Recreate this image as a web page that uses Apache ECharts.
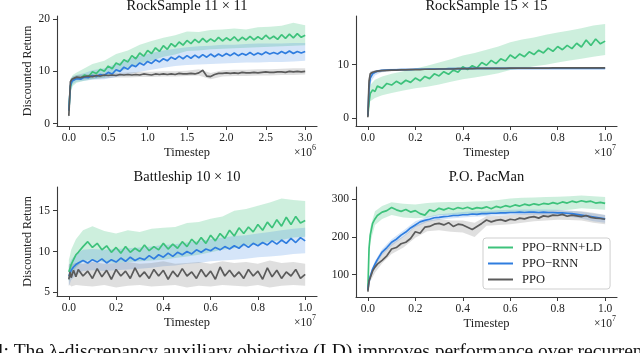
<!DOCTYPE html>
<html><head><meta charset="utf-8">
<script src="https://cdn.jsdelivr.net/npm/echarts@6/dist/echarts.min.js"></script>
<style>html,body{margin:0;padding:0;background:#fff;}#c{width:640px;height:353px;}</style>
</head><body><div id="c"></div>
<script>
// ---------- names ----------
const NAME_LD = 'PPO−RNN+LD';
const NAME_RNN = 'PPO−RNN';
const NAME_PPO = 'PPO';
const panelTitles = ['RockSample 11 × 11', 'RockSample 15 × 15', 'Battleship 10 × 10', 'P.O. PacMan'];

// ---------- x grids (timesteps, in units of 1e6 for RockSample 11, 1e7 otherwise) ----------
const xRS11 = [0, 0.02, 0.04, 0.07, 0.1, 0.15, 0.2, 0.25, 0.3, 0.35, 0.4, 0.45, 0.5, 0.55, 0.6, 0.65, 0.7, 0.75, 0.8, 0.85, 0.9, 0.95, 1.0, 1.05, 1.1, 1.15, 1.2, 1.25, 1.3, 1.35, 1.4, 1.45, 1.5, 1.55, 1.6, 1.65, 1.7, 1.75, 1.8, 1.85, 1.9, 1.95, 2.0, 2.05, 2.1, 2.15, 2.2, 2.25, 2.3, 2.35, 2.4, 2.45, 2.5, 2.55, 2.6, 2.65, 2.7, 2.75, 2.8, 2.85, 2.9, 2.95, 3.0];
const xBandRS11 = [0, 0.02, 0.05, 0.1, 0.2, 0.3, 0.45, 0.6, 0.75, 0.9, 1.05, 1.2, 1.35, 1.5, 1.65, 1.8, 1.95, 2.1, 2.25, 2.4, 2.55, 2.7, 2.85, 3.0];
const x1e7 = [0, 0.005, 0.01, 0.02, 0.03, 0.04, 0.06, 0.08, 0.1, 0.12, 0.14, 0.16, 0.18, 0.2, 0.22, 0.24, 0.26, 0.28, 0.3, 0.32, 0.34, 0.36, 0.38, 0.4, 0.42, 0.44, 0.46, 0.48, 0.5, 0.52, 0.54, 0.56, 0.58, 0.6, 0.62, 0.64, 0.66, 0.68, 0.7, 0.72, 0.74, 0.76, 0.78, 0.8, 0.82, 0.84, 0.86, 0.88, 0.9, 0.92, 0.94, 0.96, 0.98, 1.0];
const xBand1e7 = [0, 0.005, 0.01, 0.03, 0.06, 0.1, 0.15, 0.2, 0.25, 0.3, 0.35, 0.4, 0.45, 0.5, 0.55, 0.6, 0.65, 0.7, 0.75, 0.8, 0.85, 0.9, 0.95, 1.0];

// ---------- tick labels ----------
const xTicksRS11 = [0, 0.5, 1.0, 1.5, 2.0, 2.5, 3.0];
const xTicks1e7 = [0, 0.2, 0.4, 0.6, 0.8, 1.0];
const yTicksRS11 = [0, 10, 20];
const yTicksRS15 = [0, 10];
const yTicksBS = [5, 10, 15];
const yTicksPM = [100, 200, 300];
const xExponents = ['6', '7', '7', '7'];

// ---------- RockSample 11x11 ----------
const rs11LD = [2.5,7.0,8.2,8.5,8.8,8.7,9.3,9.0,9.9,9.6, 10.4,10.0,11.0,10.5,11.6,11.2,12.2,11.8,13.0,12.4, 13.5,12.9,14.0,13.4,14.5,13.8,14.9,14.2,15.3,14.7, 15.6,15.0,15.9,15.3,16.1,15.5,16.3,15.6,16.2,15.7, 16.5,15.8,16.4,15.9,16.6,15.8,16.5,16.0,16.7,16.0, 16.6,16.1,16.9,16.2,16.7,16.1,17.0,16.3,17.1,16.4, 17.2,16.5,16.9];
const rs11RNN = [2.5,7.3,8.1,8.4,8.6,8.5,8.9,8.8,9.2,9.0, 9.4,9.2,9.8,9.5,10.3,10.0,10.8,10.4,11.2,10.9, 11.6,11.2,11.9,11.5,12.2,11.8,12.4,12.0,12.7,12.3, 12.9,12.4,13.0,12.5,13.1,12.6,13.2,12.7,13.3,12.8, 13.3,12.9,13.4,13.0,13.5,13.0,13.4,13.1,13.6,13.1, 13.5,13.2,13.7,13.3,13.6,13.3,13.8,13.4,13.9,13.4, 13.8,13.5,13.8];
const rs11PPO = [1.5,8.0,8.5,8.7,8.9,8.8,9.0,9.1,9.0,9.2, 9.1,9.3,9.2,9.3,9.2,9.4,9.3,9.4,9.3,9.4, 9.3,9.5,9.4,9.3,9.5,9.4,9.5,9.4,9.5,9.4, 9.6,9.5,9.5,9.6,9.5,9.7,10.2,9.1,9.0,9.4, 9.6,9.6,9.7,9.6,9.7,9.6,9.8,9.7,9.7,9.8, 9.7,9.8,9.9,9.8,9.8,9.9,9.9,9.8,10.0,9.9, 10.0,9.9,10.0];
const rs11LDHi = [4.5,8.5,9.3,9.8,10.6,11.4,12.0,13.3,14.0,15.1,15.8,16.4,16.9,17.6,17.5,17.9,18.0,18.2,18.0,18.4,18.5,18.7,19.3,18.8];
const rs11LDLo = [1.0,5.8,7.2,7.8,8.2,8.5,8.8,9.8,10.5,11.5,12.0,12.8,13.2,13.9,14.0,14.2,14.3,14.4,14.5,14.6,14.7,14.8,14.9,15.0];
const rs11RNNHi = [4.5,8.3,9.0,9.3,9.7,10.2,10.6,11.4,12.3,13.0,13.5,14.0,14.3,14.6,14.8,14.9,15.1,15.1,15.2,15.3,15.3,15.3,15.4,15.4];
const rs11RNNLo = [1.0,6.0,7.6,8.0,8.2,8.4,8.5,8.9,9.4,9.9,10.3,10.7,11.0,11.2,11.3,11.4,11.5,11.6,11.7,11.7,11.8,11.8,11.9,12.0];
const rs11PPOHi = [2.5,8.6,9.0,9.3,9.4,9.5,9.6,9.7,9.8,9.9,9.9,10.0,10.0,10.1,10.4,9.7,10.2,10.3,10.3,10.4,10.4,10.5,10.6,10.6];
const rs11PPOLo = [0.5,7.2,8.1,8.4,8.5,8.6,8.7,8.8,8.8,8.9,8.9,9.0,9.0,9.1,9.2,8.5,9.0,9.1,9.1,9.2,9.2,9.3,9.3,9.4];

// ---------- RockSample 15x15 ----------
const rs15LD = [0.5,3.0,4.6,5.3,5.0,6.0,5.6,6.5,6.2,6.9, 6.4,7.1,6.7,7.5,7.0,7.8,7.4,8.3,7.9,8.7, 8.2,9.0,8.6,9.6,9.1,9.8,9.4,10.4,9.9,10.8, 10.2,11.1,10.7,11.8,11.2,12.0,11.5,12.4,11.9,12.7, 12.2,13.1,12.5,13.4,12.8,13.6,13.0,14.0,13.3,14.6, 13.6,14.8,13.9,14.4];
const rs15RNN = [0.5,5.5,7.5,8.3,8.6,8.8,8.95,9.0,9.05,9.05, 9.1,9.1,9.1,9.15,9.15,9.15,9.2,9.2,9.2,9.2, 9.25,9.25,9.25,9.25,9.3,9.3,9.3,9.3,9.3,9.3, 9.3,9.3,9.3,9.3,9.3,9.3,9.3,9.3,9.3,9.3, 9.3,9.3,9.3,9.3,9.3,9.3,9.3,9.3,9.3,9.3, 9.3,9.3,9.3,9.3];
const rs15PPO = [0.2,7.0,8.3,8.6,8.7,8.8,8.9,8.95,9.0,9.0, 9.05,9.05,9.1,9.1,9.1,9.15,9.15,9.15,9.2,9.2, 9.2,9.2,9.25,9.25,9.25,9.25,9.3,9.3,9.3,9.3, 9.3,9.3,9.3,9.35,9.35,9.35,9.35,9.35,9.35,9.35, 9.35,9.35,9.4,9.4,9.4,9.4,9.4,9.4,9.4,9.4, 9.4,9.4,9.4,9.4];
const rs15LDHi = [1.5,4.5,6.2,7.2,7.8,8.3,8.8,9.3,9.8,10.4,11.0,11.7,12.2,12.8,13.4,14.2,14.7,15.1,15.6,16.0,16.4,16.8,17.3,17.6];
const rs15LDLo = [0.0,1.8,3.2,3.8,4.3,4.7,5.2,5.6,5.9,6.3,6.8,7.3,7.6,8.0,8.4,9.0,9.3,9.7,10.0,10.4,10.8,11.1,11.5,11.8];
const rs15RNNHi = [1.5,7.0,8.3,8.9,9.15,9.25,9.3,9.3,9.35,9.4,9.4,9.45,9.45,9.45,9.45,9.45,9.45,9.45,9.45,9.45,9.45,9.45,9.45,9.45];
const rs15RNNLo = [0.0,4.0,6.6,8.0,8.7,8.85,8.95,9.0,9.0,9.05,9.05,9.1,9.1,9.1,9.15,9.15,9.15,9.15,9.15,9.15,9.15,9.15,9.15,9.15];
const rs15PPOHi = [0.8,8.0,8.8,8.95,9.1,9.2,9.25,9.3,9.35,9.4,9.45,9.45,9.5,9.5,9.5,9.5,9.55,9.55,9.55,9.55,9.55,9.55,9.55,9.55];
const rs15PPOLo = [0.0,6.0,7.8,8.4,8.6,8.8,8.9,9.0,9.0,9.05,9.1,9.1,9.15,9.15,9.15,9.2,9.2,9.2,9.2,9.25,9.25,9.25,9.25,9.25];

// ---------- Battleship 10x10 ----------
const bsLD = [7.5,7.9,8.4,9.0,9.6,9.9,10.6,11.2,10.5,11.0, 10.2,10.7,9.9,10.5,9.8,10.6,9.9,10.4,10.0,10.8, 10.1,10.6,10.2,11.0,10.3,10.9,10.4,11.2,10.6,11.5, 10.9,11.7,11.0,12.0,11.3,12.2,11.6,12.6,11.9,12.9, 12.2,13.0,12.4,13.3,12.6,13.6,12.9,13.9,13.1,14.2, 13.3,14.3,13.5,13.8];
const bsRNN = [7.0,7.3,7.7,8.1,8.4,8.6,8.9,8.6,9.0,8.7, 9.1,8.6,9.0,8.7,9.2,8.8,9.3,8.9,9.2,9.0, 9.5,9.1,9.6,9.3,9.8,9.4,9.9,9.6,10.0,9.7, 10.2,9.9,10.3,10.1,10.5,10.2,10.6,10.3,10.7,10.4, 10.9,10.5,11.0,10.7,11.1,10.8,11.3,10.9,11.4,11.0, 11.6,11.1,11.7,11.3];
const bsPPO = [6.6,7.5,6.8,7.7,6.9,7.8,7.0,7.6,6.7,7.9, 6.9,7.7,6.6,7.8,7.0,7.6,6.7,8.0,6.9,7.5, 6.7,7.8,7.0,7.7,6.6,7.6,6.9,7.9,7.0,7.5, 6.7,7.8,6.9,7.6,6.6,8.1,7.0,7.7,6.9,7.5, 6.7,7.8,7.0,7.6,6.6,8.0,6.9,7.7,6.7,7.5, 7.0,7.8,6.7,7.2];
const bsLDHi = [9.0,9.5,10.2,11.5,12.6,13.1,12.5,12.2,12.6,12.4,12.8,12.9,13.0,13.5,13.6,14.0,14.3,15.0,15.2,15.6,16.0,16.5,16.3,16.2];
const bsLDLo = [6.3,6.7,7.1,8.0,8.8,9.0,8.7,8.6,8.7,8.8,8.9,9.0,9.2,9.4,9.6,9.9,10.2,10.4,10.7,10.9,11.2,11.4,11.7,11.8];
const bsRNNHi = [8.3,8.6,9.0,9.7,10.2,10.3,10.2,10.3,10.4,10.5,10.6,10.8,10.9,11.1,11.3,11.5,11.7,11.9,12.0,12.2,12.4,12.6,12.8,12.9];
const bsRNNLo = [5.8,6.1,6.5,7.1,7.6,7.7,7.6,7.7,7.8,7.9,8.0,8.2,8.3,8.5,8.6,8.8,8.9,9.0,9.1,9.3,9.4,9.5,9.7,9.8];
const bsPPOHi = [8.4,8.5,8.4,8.6,8.5,8.7,8.5,8.6,8.7,8.5,8.6,8.8,8.5,8.6,8.7,8.5,8.8,8.6,8.7,8.5,8.9,8.6,8.7,8.5];
const bsPPOLo = [5.8,5.9,5.7,5.9,5.8,5.7,5.9,5.6,5.8,5.9,5.7,5.8,5.9,5.6,5.8,5.7,5.9,5.8,5.7,5.9,5.6,5.8,5.9,5.8];

// ---------- P.O. PacMan ----------
const pmLD = [60,170,205,236,248,257,266,270,278,272, 268,273,266,270,262,258,272,268,276,272, 277,273,278,275,279,274,278,276,280,275, 281,278,283,280,285,282,287,284,288,285, 289,287,291,288,293,290,295,292,296,293, 295,290,292,289];
const pmRNN = [60,82,95,115,128,140,160,172,186,194, 205,213,224,232,240,244,247,251,252,254, 255,257,257,259,259,261,260,262,262,263, 263,264,264,265,265,266,265,266,266,265, 266,265,265,264,264,263,262,260,258,256, 254,252,250,248];
const pmPPO = [55,84,92,110,120,128,138,150,168,172, 182,186,196,214,210,226,228,234,236,232, 238,228,234,232,226,220,228,236,245,240, 244,246,242,247,245,250,248,252,254,250, 256,254,258,257,260,255,258,256,254,257, 252,250,249,247];
const pmLDHi = [75,190,225,268,282,292,288,286,290,292,293,293,294,295,298,302,304,305,306,307,308,310,308,306];
const pmLDLo = [50,150,185,232,248,258,252,250,252,258,259,259,260,260,262,265,266,267,268,270,272,276,274,272];
const pmRNNHi = [66,90,103,136,168,194,217,242,254,260,263,266,268,269,271,272,273,273,273,272,270,267,262,258];
const pmRNNLo = [55,75,87,120,152,176,200,226,240,246,249,252,254,255,257,258,259,259,259,258,254,249,242,238];
const pmPPOHi = [62,92,100,128,156,182,202,230,244,248,244,244,238,255,256,258,261,265,268,270,269,268,264,258];
const pmPPOLo = [50,72,82,105,130,155,172,198,215,218,214,212,200,230,232,234,238,242,244,246,245,244,238,234];

// ---------- styling ----------
const C_LD = '#3dc27b', C_RNN = '#2f7ddf', C_PPO = '#5b5b5b';
const B_LD = 'rgba(61,194,123,0.26)', B_RNN = 'rgba(47,125,223,0.2)', B_PPO = 'rgba(110,110,110,0.22)';
const FONT = 'Liberation Serif';
const AX = '#3a3a3a';

function check(xs, arr, label) { if (xs.length !== arr.length) throw new Error('length mismatch ' + label + ' ' + xs.length + ' vs ' + arr.length); }

function lineSeries(name, xs, ys, gi, color) {
  check(xs, ys, name + gi);
  return { type: 'line', name: name, xAxisIndex: gi, yAxisIndex: gi,
    data: xs.map((x, i) => [x, ys[i]]), showSymbol: false, symbol: 'none',
    lineStyle: { color: color, width: 1.7 }, itemStyle: { color: color },
    animation: false, clip: true, silent: true };
}
function bandSeries(xs, lo, hi, gi, fill) {
  check(xs, lo, 'lo' + gi); check(xs, hi, 'hi' + gi);
  const data = xs.map((x, i) => [x, lo[i], hi[i]]);
  return { type: 'custom', name: 'band', xAxisIndex: gi, yAxisIndex: gi, data: data,
    encode: { x: 0, y: [1, 2] }, animation: false, silent: true, clip: true,
    renderItem: function (params, api) {
      if (params.dataIndex !== 0) return null;
      const top = data.map(d => api.coord([d[0], d[2]]));
      const bot = data.map(d => api.coord([d[0], d[1]])).reverse();
      return { type: 'polygon', shape: { points: top.concat(bot) }, style: { fill: fill } };
    } };
}

const grids = [
  { left: 57, top: 16, width: 260, height: 110 },
  { left: 356, top: 16, width: 261, height: 110 },
  { left: 57, top: 187, width: 260, height: 109 },
  { left: 356, top: 187, width: 261, height: 110 }
];
const xRanges = [[-0.15, 3.15], [-0.05, 1.05], [-0.05, 1.05], [-0.05, 1.05]];
const yRanges = [[-0.44, 20.57], [-1.44, 19.09], [4.55, 17.9], [40.8, 332.6]];
const xTickSets = [xTicksRS11, xTicks1e7, xTicks1e7, xTicks1e7];
const yTickSets = [yTicksRS11, yTicksRS15, yTicksBS, yTicksPM];

const xAxes = grids.map((g, i) => ({
  type: 'value', gridIndex: i, min: xRanges[i][0], max: xRanges[i][1],
  name: 'Timestep', nameLocation: 'middle', nameGap: 20,
  nameTextStyle: { fontFamily: FONT, fontSize: 12.5, color: '#222' },
  axisLine: { show: true, onZero: false, lineStyle: { color: AX, width: 1.1 } },
  axisTick: { show: true, length: 4, inside: false, customValues: xTickSets[i], lineStyle: { color: AX, width: 1 } },
  axisLabel: { customValues: xTickSets[i], formatter: v => v.toFixed(1), margin: 6,
    fontFamily: FONT, fontSize: 11.5, color: '#222' },
  splitLine: { show: false }
}));
const yAxes = grids.map((g, i) => ({
  type: 'value', gridIndex: i, min: yRanges[i][0], max: yRanges[i][1],
  name: (i % 2 === 0) ? 'Discounted Return' : '', nameLocation: 'middle', nameGap: 23,
  nameTextStyle: { fontFamily: FONT, fontSize: 12, color: '#222' },
  axisLine: { show: true, onZero: false, lineStyle: { color: AX, width: 1.1 } },
  axisTick: { show: true, length: 4, inside: false, customValues: yTickSets[i], lineStyle: { color: AX, width: 1 } },
  axisLabel: { customValues: yTickSets[i], formatter: v => String(v), margin: 7,
    fontFamily: FONT, fontSize: 11.5, color: '#222' },
  splitLine: { show: false }
}));

const panels = [
  { xs: xRS11, xb: xBandRS11, ld: rs11LD, rnn: rs11RNN, ppo: rs11PPO, ldH: rs11LDHi, ldL: rs11LDLo, rnnH: rs11RNNHi, rnnL: rs11RNNLo, ppoH: rs11PPOHi, ppoL: rs11PPOLo },
  { xs: x1e7, xb: xBand1e7, ld: rs15LD, rnn: rs15RNN, ppo: rs15PPO, ldH: rs15LDHi, ldL: rs15LDLo, rnnH: rs15RNNHi, rnnL: rs15RNNLo, ppoH: rs15PPOHi, ppoL: rs15PPOLo },
  { xs: x1e7, xb: xBand1e7, ld: bsLD, rnn: bsRNN, ppo: bsPPO, ldH: bsLDHi, ldL: bsLDLo, rnnH: bsRNNHi, rnnL: bsRNNLo, ppoH: bsPPOHi, ppoL: bsPPOLo },
  { xs: x1e7, xb: xBand1e7, ld: pmLD, rnn: pmRNN, ppo: pmPPO, ldH: pmLDHi, ldL: pmLDLo, rnnH: pmRNNHi, rnnL: pmRNNLo, ppoH: pmPPOHi, ppoL: pmPPOLo }
];
const series = [];
panels.forEach((p, gi) => {
  series.push(bandSeries(p.xb, p.ldL, p.ldH, gi, B_LD));
  series.push(lineSeries(NAME_LD, p.xs, p.ld, gi, C_LD));
  series.push(bandSeries(p.xb, p.rnnL, p.rnnH, gi, B_RNN));
  series.push(lineSeries(NAME_RNN, p.xs, p.rnn, gi, C_RNN));
  series.push(bandSeries(p.xb, p.ppoL, p.ppoH, gi, B_PPO));
  series.push(lineSeries(NAME_PPO, p.xs, p.ppo, gi, C_PPO));
});

const graphics = [];
grids.forEach((g, i) => {
  const cx = g.left + g.width / 2;
  graphics.push({ type: 'text', x: cx, y: g.top - 10, silent: true,
    style: { text: panelTitles[i], font: '14.5px "Liberation Serif"', fill: '#111', align: 'center', verticalAlign: 'middle' } });
  const right = g.left + g.width;
  const by = g.top + g.height + 27;
  graphics.push({ type: 'text', x: right - 5, y: by, silent: true,
    style: { text: '×10', font: '11.5px "Liberation Serif"', fill: '#222', align: 'right', verticalAlign: 'middle' } });
  graphics.push({ type: 'text', x: right - 5, y: by - 5, silent: true,
    style: { text: xExponents[i], font: '8px "Liberation Serif"', fill: '#222', align: 'left', verticalAlign: 'middle' } });
});
graphics.push({ type: 'text', x: -2, y: 342, silent: true,
  style: { text: 'l: The λ-discrepancy auxiliary objective (LD) improves performance over recurrent', font: '19.5px "Liberation Serif"', fill: '#111', align: 'left', verticalAlign: 'top' } });

const chart = echarts.init(document.getElementById('c'), null, { renderer: 'canvas' });
chart.setOption({
  animation: false,
  backgroundColor: '#fff',
  textStyle: { fontFamily: FONT },
  grid: grids,
  xAxis: xAxes,
  yAxis: yAxes,
  series: series,
  graphic: graphics,
  legend: {
    data: [NAME_LD, NAME_RNN, NAME_PPO], left: 483, top: 238, orient: 'vertical',
    icon: 'rect', itemWidth: 25, itemHeight: 2, itemGap: 3, padding: [3, 8, 3, 5],
    borderColor: '#cfcfcf', borderWidth: 1, borderRadius: 3, backgroundColor: 'rgba(255,255,255,0.85)',
    textStyle: { fontFamily: FONT, fontSize: 12.5, color: '#222', padding: [0, 0, 0, 4] },
    selectedMode: false
  }
});
</script></body></html>
